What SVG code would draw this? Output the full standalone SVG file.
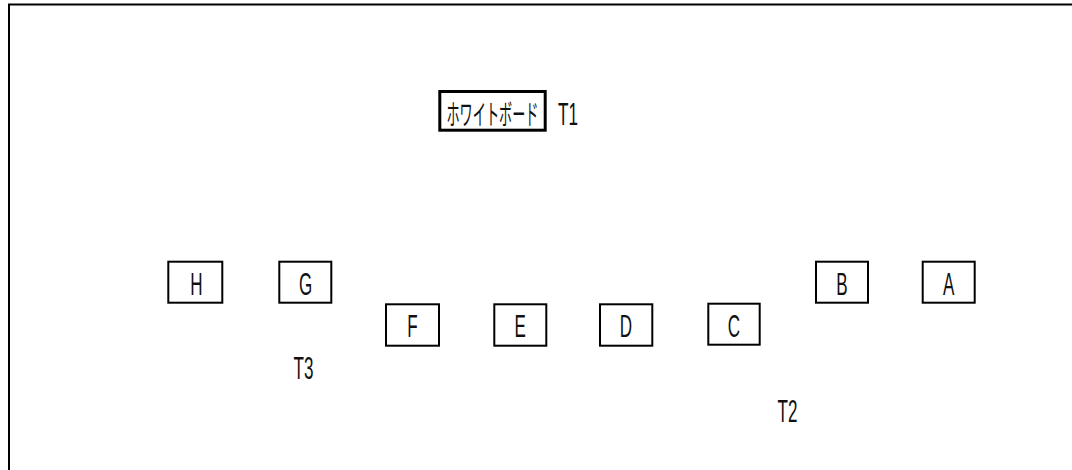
<svg xmlns="http://www.w3.org/2000/svg" width="1072" height="470" viewBox="0 0 1072 470">
  <style>
    .frame { fill: none; stroke: #000; stroke-width: 2; }
    .seat { fill: #fff; stroke: #000; stroke-width: 2; }
    .board { fill: #fff; stroke: #000; stroke-width: 3; }
    .lbl { font-family: "Liberation Sans", Arial, sans-serif; font-size: 31px; fill: #111; }
    .mid { text-anchor: middle; }
    .jp { font-family: "Noto Sans CJK JP", "Noto Sans", sans-serif; font-size: 28px; fill: #111; text-anchor: middle; }
  </style>
  <rect width="1072" height="470" fill="#fff"/>
  <!-- room outline: top and left walls -->
  <path class="frame" d="M9 470 V4.5 H1072"/>

  <g id="connectors"></g>

  <!-- whiteboard -->
  <g id="whiteboard">
    <rect class="board" x="439.8" y="91.5" width="105.4" height="38.7"/>
    <text class="jp" transform="translate(492.5 125) scale(0.47 1)">ホワイトボード</text>
  </g>
  <g id="t1"><text class="lbl" transform="translate(558 124.5) scale(0.55 1)">T1</text></g>

  <!-- back row -->
  <g id="seat-h">
    <rect class="seat" x="168.3" y="261.7" width="54" height="41"/>
    <text class="lbl mid" transform="translate(196.5 294.5) scale(0.55 1)">H</text>
  </g>
  <g id="seat-g">
    <rect class="seat" x="279.3" y="261.7" width="52" height="41"/>
    <text class="lbl mid" transform="translate(305.5 294.5) scale(0.55 1)">G</text>
  </g>
  <g id="seat-b">
    <rect class="seat" x="816" y="261.7" width="52" height="41"/>
    <text class="lbl mid" transform="translate(842 294.5) scale(0.55 1)">B</text>
  </g>
  <g id="seat-a">
    <rect class="seat" x="922.7" y="261.7" width="52" height="41"/>
    <text class="lbl mid" transform="translate(948.7 294.5) scale(0.55 1)">A</text>
  </g>

  <!-- front row -->
  <g id="seat-f">
    <rect class="seat" x="386" y="304.3" width="53" height="41.4"/>
    <text class="lbl mid" transform="translate(412.5 337) scale(0.55 1)">F</text>
  </g>
  <g id="seat-e">
    <rect class="seat" x="494.3" y="304.3" width="52" height="41.4"/>
    <text class="lbl mid" transform="translate(520.3 337) scale(0.55 1)">E</text>
  </g>
  <g id="seat-d">
    <rect class="seat" x="600" y="304.3" width="52.3" height="41.4"/>
    <text class="lbl mid" transform="translate(626 337) scale(0.55 1)">D</text>
  </g>
  <g id="seat-c">
    <rect class="seat" x="708.3" y="303.7" width="51.4" height="41"/>
    <text class="lbl mid" transform="translate(734 336.5) scale(0.55 1)">C</text>
  </g>

  <g id="t3"><text class="lbl" transform="translate(293.5 378.5) scale(0.55 1)">T3</text></g>
  <g id="t2"><text class="lbl" transform="translate(777.5 421.5) scale(0.55 1)">T2</text></g>
</svg>
